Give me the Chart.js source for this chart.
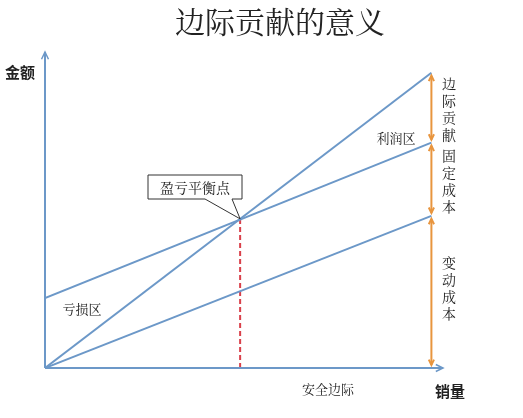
<!DOCTYPE html>
<html>
<head>
<meta charset="utf-8">
<script src="https://cdn.jsdelivr.net/npm/chart.js@4"></script>
<style>
  html, body { margin: 0; padding: 0; background: #fff; }
  #box { width: 523px; height: 418px; }
</style>
</head>
<body>
<div id="box"><canvas id="grafica"></canvas></div>
<script>
// datos del diagrama (unidades arbitrarias)
const volumen = [0, 100];
const ingresos = [0, 100];
const costoTotal = [23.7, 76.3];
const costoVariable = [0, 51.5];
const puntoEquilibrio = { x: 50.5, y: 50.5 };

const azul = "#6c98c8";
const naranja = "#e8953e";
const serif = '"Noto Serif CJK SC", "Noto Sans CJK SC", serif';

function serie(ys) {
    return volumen.map((x, i) => ({ x, y: ys[i] }));
}

function flecha(ctx, x1, y1, x2, y2, tam) {
    const a = Math.atan2(y2 - y1, x2 - x1);
    ctx.beginPath();
    ctx.moveTo(x2 - tam * Math.cos(a - 0.45), y2 - tam * Math.sin(a - 0.45));
    ctx.lineTo(x2, y2);
    ctx.lineTo(x2 - tam * Math.cos(a + 0.45), y2 - tam * Math.sin(a + 0.45));
    ctx.stroke();
}

const decoracion = {
    id: "decoracion",
    afterDraw(chart) {
        const ctx = chart.ctx;
        const xs = chart.scales.x, ys = chart.scales.y;
        const ox = xs.getPixelForValue(0), oy = ys.getPixelForValue(0);
        ctx.save();
        // ejes
        ctx.strokeStyle = azul;
        ctx.lineWidth = 2;
        ctx.beginPath();
        ctx.moveTo(ox, oy); ctx.lineTo(xs.right, oy);
        ctx.moveTo(ox, oy); ctx.lineTo(ox, ys.top);
        ctx.stroke();
        ctx.lineWidth = 1.5;
        flecha(ctx, ox, oy, xs.right, oy, 8);
        flecha(ctx, ox, oy, ox, ys.top, 8);

        // flechas naranjas
        const xe = xs.getPixelForValue(100);
        const tramos = [[ingresos[1], costoTotal[1]], [costoTotal[1], costoVariable[1]], [costoVariable[1], 0]];
        ctx.strokeStyle = naranja;
        ctx.lineWidth = 2;
        tramos.forEach(([a, b]) => {
            const y1 = ys.getPixelForValue(a) + 3, y2 = ys.getPixelForValue(b) - 3;
            ctx.beginPath(); ctx.moveTo(xe, y1); ctx.lineTo(xe, y2); ctx.stroke();
            flecha(ctx, xe, y2, xe, y1, 6);
            flecha(ctx, xe, y1, xe, y2, 6);
        });

        // caja del punto de equilibrio
        const px = xs.getPixelForValue(puntoEquilibrio.x), py = ys.getPixelForValue(puntoEquilibrio.y);
        ctx.strokeStyle = "#333";
        ctx.lineWidth = 1;
        ctx.fillStyle = "#fff";
        ctx.beginPath();
        ctx.moveTo(148, 175); ctx.lineTo(242, 175); ctx.lineTo(242, 199);
        ctx.lineTo(232, 199); ctx.lineTo(px, py); ctx.lineTo(205, 199);
        ctx.lineTo(148, 199); ctx.closePath();
        ctx.fill(); ctx.stroke();

        ctx.fillStyle = "#222";
        ctx.textAlign = "center";
        ctx.textBaseline = "middle";
        ctx.font = "14px " + serif;
        ctx.fillText("盈亏平衡点", 195, 188);

        ctx.font = "30px " + serif;
        ctx.fillText("边际贡献的意义", 280, 22);

        ctx.font = "bold 15px 'Noto Sans CJK SC', sans-serif";
        ctx.fillText("金额", 20, 72);
        ctx.fillText("销量", 450, 391);

        ctx.font = "13px " + serif;
        ctx.fillText("安全边际", 328, 389);
        ctx.fillText("利润区", 396, 138);
        ctx.fillText("亏损区", 82, 309);

        const vertical = (txt, x, y0) => {
            [...txt].forEach((c, i) => ctx.fillText(c, x, y0 + i * 17));
        };
        ctx.font = "14px " + serif;
        vertical("边际贡献", 449, 84);
        vertical("固定成本", 449, 156);
        vertical("变动成本", 449, 263);
        ctx.restore();
    }
};

new Chart(document.getElementById("grafica"), {
    type: "line",
    data: {
        datasets: [
            { data: serie(ingresos), borderColor: azul, borderWidth: 2 },
            { data: serie(costoTotal), borderColor: azul, borderWidth: 2 },
            { data: serie(costoVariable), borderColor: azul, borderWidth: 2 },
            {
                data: [{ x: puntoEquilibrio.x, y: 0 }, { x: puntoEquilibrio.x, y: puntoEquilibrio.y }],
                borderColor: "#d9404a", borderWidth: 2, borderDash: [5, 3]
            }
        ]
    },
    options: {
        responsive: true,
        maintainAspectRatio: false,
        animation: false,
        layout: { padding: { left: 45, top: 52, right: 80, bottom: 50 } },
        elements: { point: { radius: 0 }, line: { tension: 0 } },
        plugins: { legend: { display: false }, tooltip: { enabled: false } },
        scales: {
            x: { type: "linear", display: false, min: 0, max: 103 },
            y: { type: "linear", display: false, min: 0, max: 107 }
        }
    },
    plugins: [decoracion]
});
</script>
</body>
</html>
